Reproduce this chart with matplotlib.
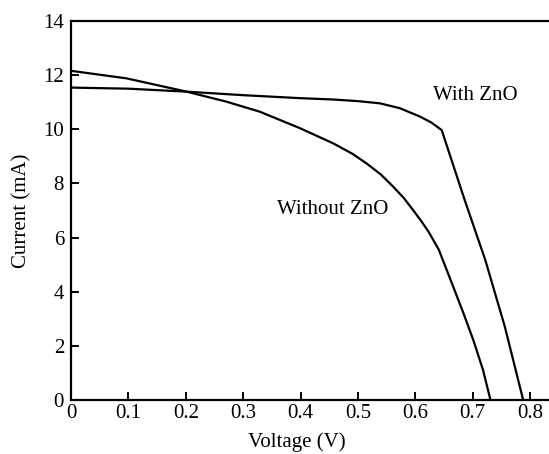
import numpy as np
import matplotlib
matplotlib.use("Agg")
import matplotlib.pyplot as plt

# I-V curves
v_with = [0.0, 0.10, 0.2015, 0.30, 0.399, 0.457, 0.50, 0.538, 0.573, 0.608, 0.628, 0.646,
          0.686, 0.722, 0.756, 0.788]
i_with = [11.54, 11.50, 11.39, 11.26, 11.15, 11.10, 11.04, 10.96, 10.78, 10.47, 10.25, 9.97,
          7.39, 5.17, 2.71, 0.0]

v_without = [0.0, 0.097, 0.2015, 0.271, 0.329, 0.399, 0.457, 0.49, 0.515, 0.54, 0.5615, 0.58,
             0.596, 0.610, 0.623, 0.641, 0.666, 0.684, 0.701, 0.718, 0.731]
i_without = [12.16, 11.88, 11.39, 11.02, 10.65, 10.04, 9.48, 9.10, 8.74, 8.33, 7.88, 7.46,
             7.02, 6.62, 6.22, 5.55, 4.19, 3.20, 2.22, 1.11, 0.0]

x_ticks = [0, 0.1, 0.2, 0.3, 0.4, 0.5, 0.6, 0.7, 0.8]
x_tick_labels = ["0", "0.1", "0.2", "0.3", "0.4", "0.5", "0.6", "0.7", "0.8"]
y_ticks = [0, 2, 4, 6, 8, 10, 12, 14]

plt.rcParams["font.family"] = ["Liberation Serif", "DejaVu Serif"]
plt.rcParams["font.size"] = 15

fig = plt.figure(figsize=(5.49, 4.54), dpi=100)
ax = fig.add_axes([71 / 549, 54 / 454, 1 - 71 / 549, (400 - 21) / 454])

ax.plot(v_with, i_with, color="black", lw=1.6, solid_joinstyle="round")
ax.plot(v_without, i_without, color="black", lw=1.6, solid_joinstyle="round")

ax.set_xlim(0, 0.833)
ax.set_ylim(0, 14)
ax.set_xticks(x_ticks)
ax.set_xticklabels(x_tick_labels)
ax.set_yticks(y_ticks)

ax.spines["right"].set_visible(False)
for s in ["left", "bottom", "top"]:
    ax.spines[s].set_linewidth(1.6)
ax.tick_params(direction="in", length=6, width=1.4, pad=3, labelsize=15)
ax.tick_params(axis="y", pad=5)

ax.set_xlabel("Voltage (V)", fontsize=15)
ax.xaxis.set_label_coords(0.473, -0.085)
ax.set_ylabel("Current (mA)", fontsize=15)
ax.yaxis.set_label_coords(-0.082, 0.5)

ax.text(0.631, 11.23, "With ZnO", fontsize=15, va="center", ha="left")
ax.text(0.359, 7.02, "Without ZnO", fontsize=15, va="center", ha="left")

fig.savefig("out.png", dpi=100, facecolor="white")
